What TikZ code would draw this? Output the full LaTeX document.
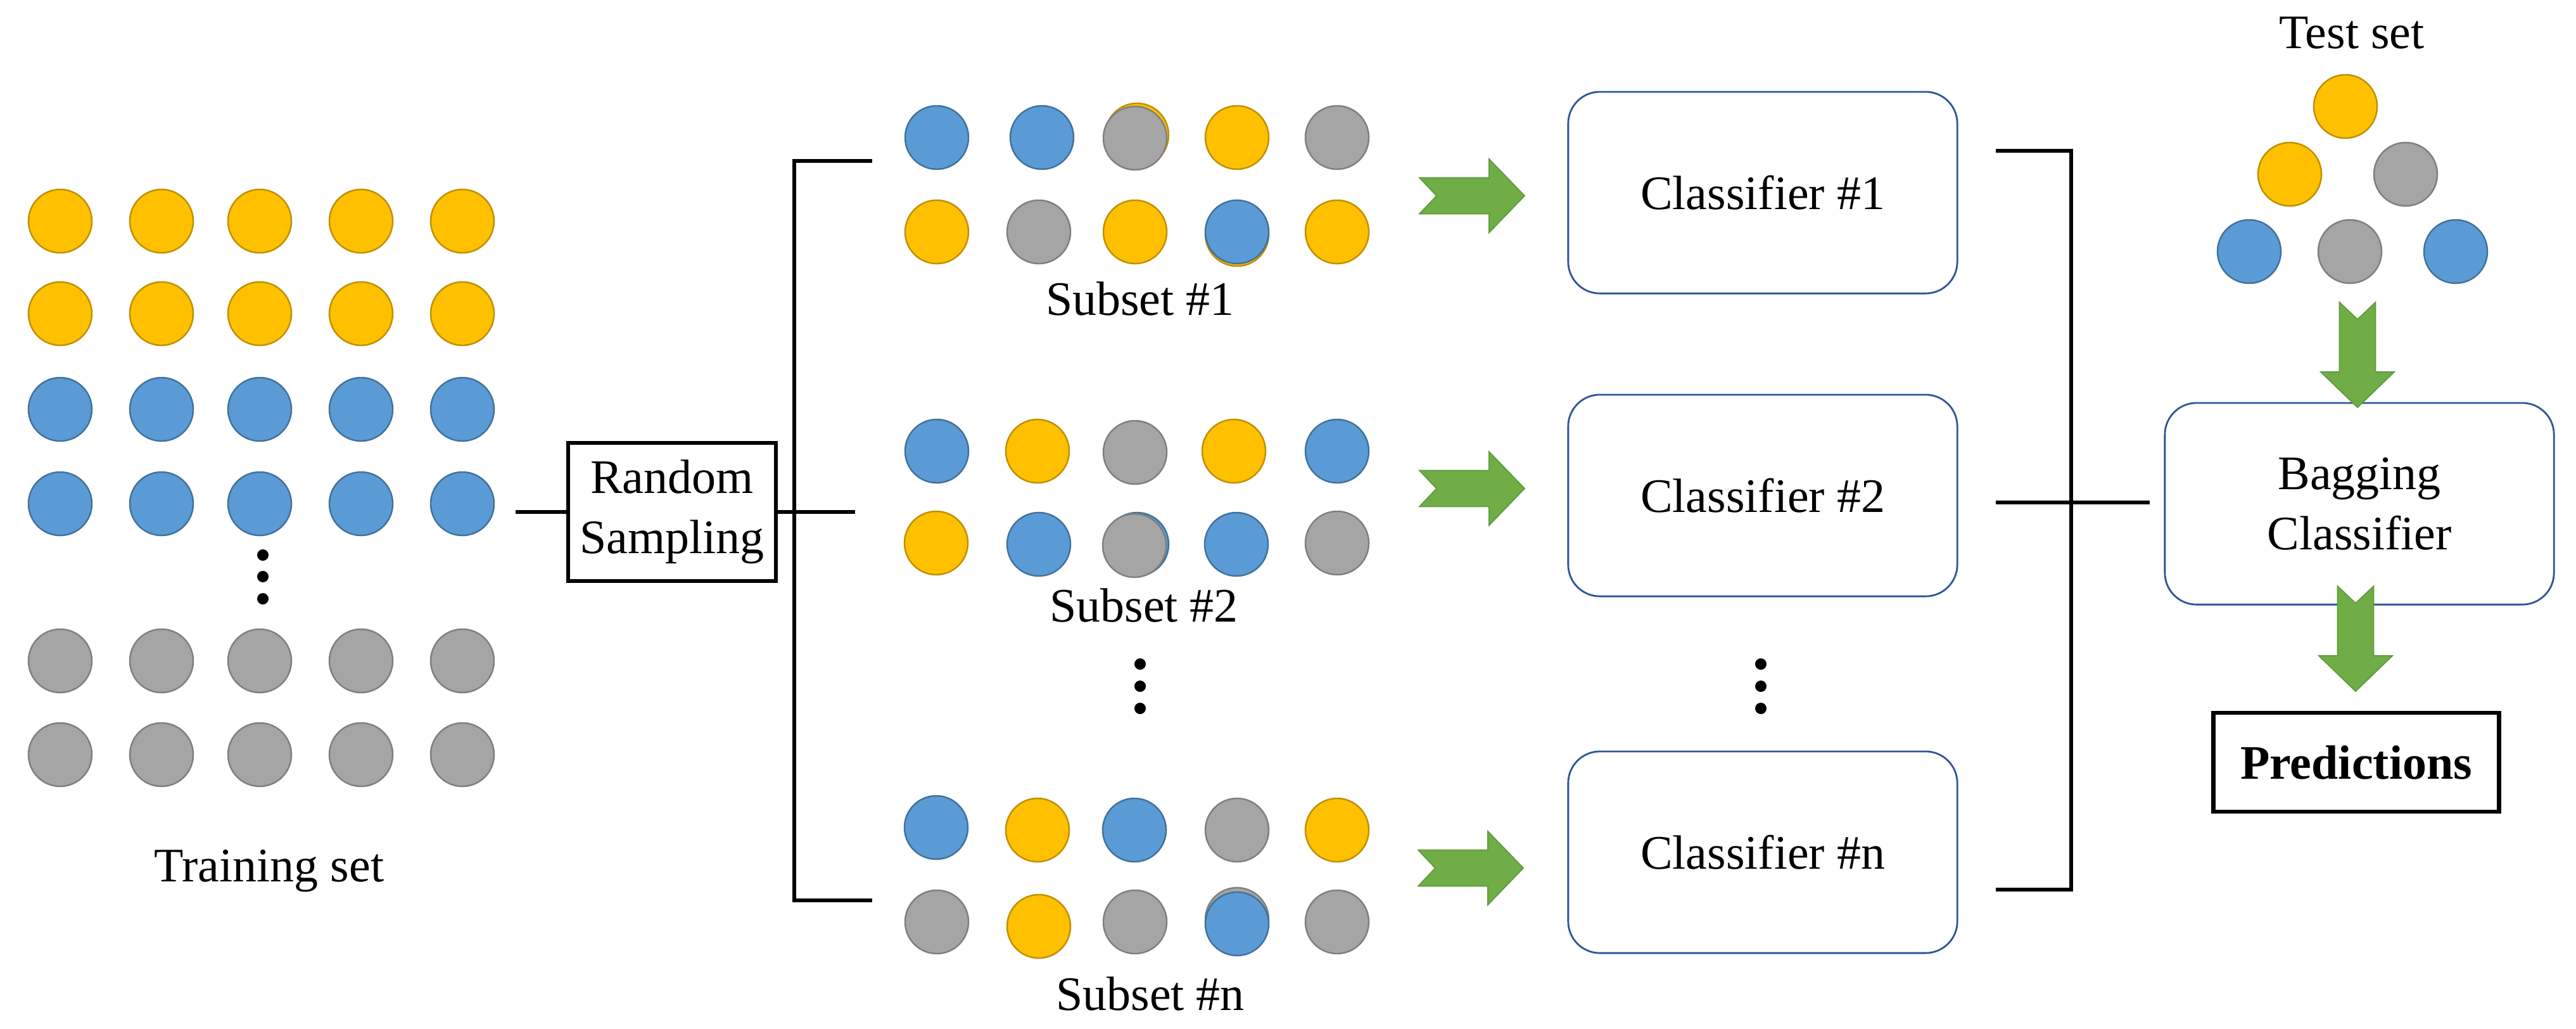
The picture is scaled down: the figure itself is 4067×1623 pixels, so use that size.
\documentclass[tikz,border=0pt]{standalone}
\usepackage{fontspec}
\setmainfont{Liberation Serif}
\definecolor{OF}{HTML}{FFC000}
\definecolor{OD}{HTML}{BF9000}
\definecolor{BF}{HTML}{5B9BD5}
\definecolor{BD}{HTML}{41719C}
\definecolor{GF}{HTML}{A5A5A5}
\definecolor{GD}{HTML}{7F7F7F}
\definecolor{grF}{HTML}{70AD47}
\definecolor{grD}{HTML}{5E9A3A}
\definecolor{boxB}{HTML}{2F5597}
\tikzset{
  ball/.style={circle, minimum size=1cm, inner sep=0pt, line width=0.7pt},
  lbl/.style={inner sep=0pt},
  clf/.style={draw=boxB, line width=0.8pt, rounded corners=0.5cm, minimum width=6.14cm, minimum height=3.18cm, inner sep=0pt, align=center},
  blk/.style={line width=1.7pt},
  vdot/.style={circle, fill=black, inner sep=0pt, minimum size=0.18cm},
  garrow/.pic={\filldraw[fill=grF, draw=grD, line width=0.5pt] (-83,-28.5) -- (27,-28.5) -- (27,-58) -- (83,0) -- (27,58) -- (27,28.5) -- (-83,28.5) -- (-56,0) -- cycle;}
}
\begin{document}
\begin{tikzpicture}[x=0.01cm, y=-0.01cm, font=\fontsize{21.6}{27}\selectfont]
\useasboundingbox (0,0) rectangle (4067,1623);
% training set
\foreach \r/\y/\s in {1/349/O,2/495/O,3/646/B,4/795/B,5/1043/G,6/1191/G}{
  \foreach \c/\x in {1/95,2/255,3/410,4/570,5/730}{
    \node[ball, fill=\s F, draw=\s D] (t\r\c) at (\x,\y) {};
  }
}
\foreach \i/\y in {1/876,2/910,3/945}{\node[vdot] (td\i) at (415,\y) {};}
\node[lbl] (trainlbl) at (425,1375) {Training set};
% random sampling
\node[draw, blk, minimum width=3.28cm, minimum height=2.18cm, align=center, inner sep=0pt] (rs) at (1061,808) {Random\\Sampling};
\coordinate (tin) at (814,808);
\draw[blk] (tin) -- (rs.west);
% left bracket
\coordinate (lbt) at (1254,254);
\coordinate (lbb) at (1254,1421);
\coordinate (lbtE) at (1377,254);
\coordinate (lbbE) at (1377,1421);
\coordinate (lbm) at (1350,808);
\draw[blk] (lbtE) -- (lbt) -- (lbb) -- (lbbE);
\draw[blk] (rs.east) -- (lbm);
% hidden circles behind
\node[ball, fill=OF, draw=OD] (h1) at (1795,213) {};
\node[ball, fill=OF, draw=OD] (h2) at (1953,370) {};
\node[ball, fill=BF, draw=BD] (h3) at (1795,859) {};
\node[ball, fill=GF, draw=GD] (h4) at (1953,1451) {};
% subsets
\foreach \n/\x/\y/\s in {
  a1/1479/217/B, a2/1645/217/B, a3/1792/218/G, a4/1953/217/O, a5/2111/217/G,
  a6/1479/366/O, a7/1640/366/G, a8/1792/366/O, a9/1953/366/B, a10/2111/366/O,
  b1/1479/712/B, b2/1638/712/O, b3/1792/714/G, b4/1948/712/O, b5/2111/712/B,
  b6/1478/857/O, b7/1640/859/B, b8/1791/861/G, b9/1952/859/B, b10/2111/857/G,
  c1/1478/1306/B, c2/1638/1310/O, c3/1791/1310/B, c4/1953/1310/G, c5/2111/1310/O,
  c6/1479/1455/G, c7/1640/1462/O, c8/1792/1455/G, c9/1953/1458/B, c10/2111/1455/G}{
  \node[ball, fill=\s F, draw=\s D] (\n) at (\x,\y) {};
}
\node[lbl] (s1lbl) at (1800,471) {Subset \#1};
\node[lbl] (s2lbl) at (1806,955) {Subset \#2};
\node[lbl] (snlbl) at (1816,1568) {Subset \#n};
\foreach \i/\y in {1/1048,2/1083,3/1118}{\node[vdot] (sd\i) at (1800,\y) {};}
% green arrows
\pic (ga1) at (2324,309) {garrow};
\pic (ga2) at (2324,771) {garrow};
\pic (gan) at (2322,1370) {garrow};
% classifiers
\node[clf] (cl1) at (2783,304) {Classifier \#1};
\node[clf] (cl2) at (2783,782) {Classifier \#2};
\node[clf] (cln) at (2783,1345) {Classifier \#n};
\foreach \i/\y in {1/1048,2/1083,3/1118}{\node[vdot] (cd\i) at (2780,\y) {};}
% right bracket
\coordinate (rbt) at (3270,238);
\coordinate (rbb) at (3270,1404);
\coordinate (rbtW) at (3151,238);
\coordinate (rbbW) at (3151,1404);
\coordinate (rbmW) at (3151,793);
\coordinate (rbmE) at (3394,793);
\draw[blk] (rbtW) -- (rbt) -- (rbb) -- (rbbW);
\draw[blk] (rbmW) -- (rbmE);
% test set
\node[lbl] (testlbl) at (3713,52) {Test set};
\node[ball, fill=OF, draw=OD] (e1) at (3703,168) {};
\node[ball, fill=OF, draw=OD] (e2) at (3615,275) {};
\node[ball, fill=GF, draw=GD] (e3) at (3798,275) {};
\node[ball, fill=BF, draw=BD] (e4) at (3551,397) {};
\node[ball, fill=GF, draw=GD] (e5) at (3710,397) {};
\node[ball, fill=BF, draw=BD] (e6) at (3877,397) {};
% bagging
\node[clf] (bag) at (3725,795) {Bagging\\Classifier};
\pic[rotate=-90] (gd1) at (3722,560) {garrow};
\pic[rotate=-90] (gd2) at (3719,1008) {garrow};
\node[draw, line width=1.9pt, minimum width=4.51cm, minimum height=1.56cm, inner sep=0pt, font=\fontsize{21.6}{27}\selectfont\bfseries] (pred) at (3720,1203) {Predictions};
\end{tikzpicture}
\end{document}
